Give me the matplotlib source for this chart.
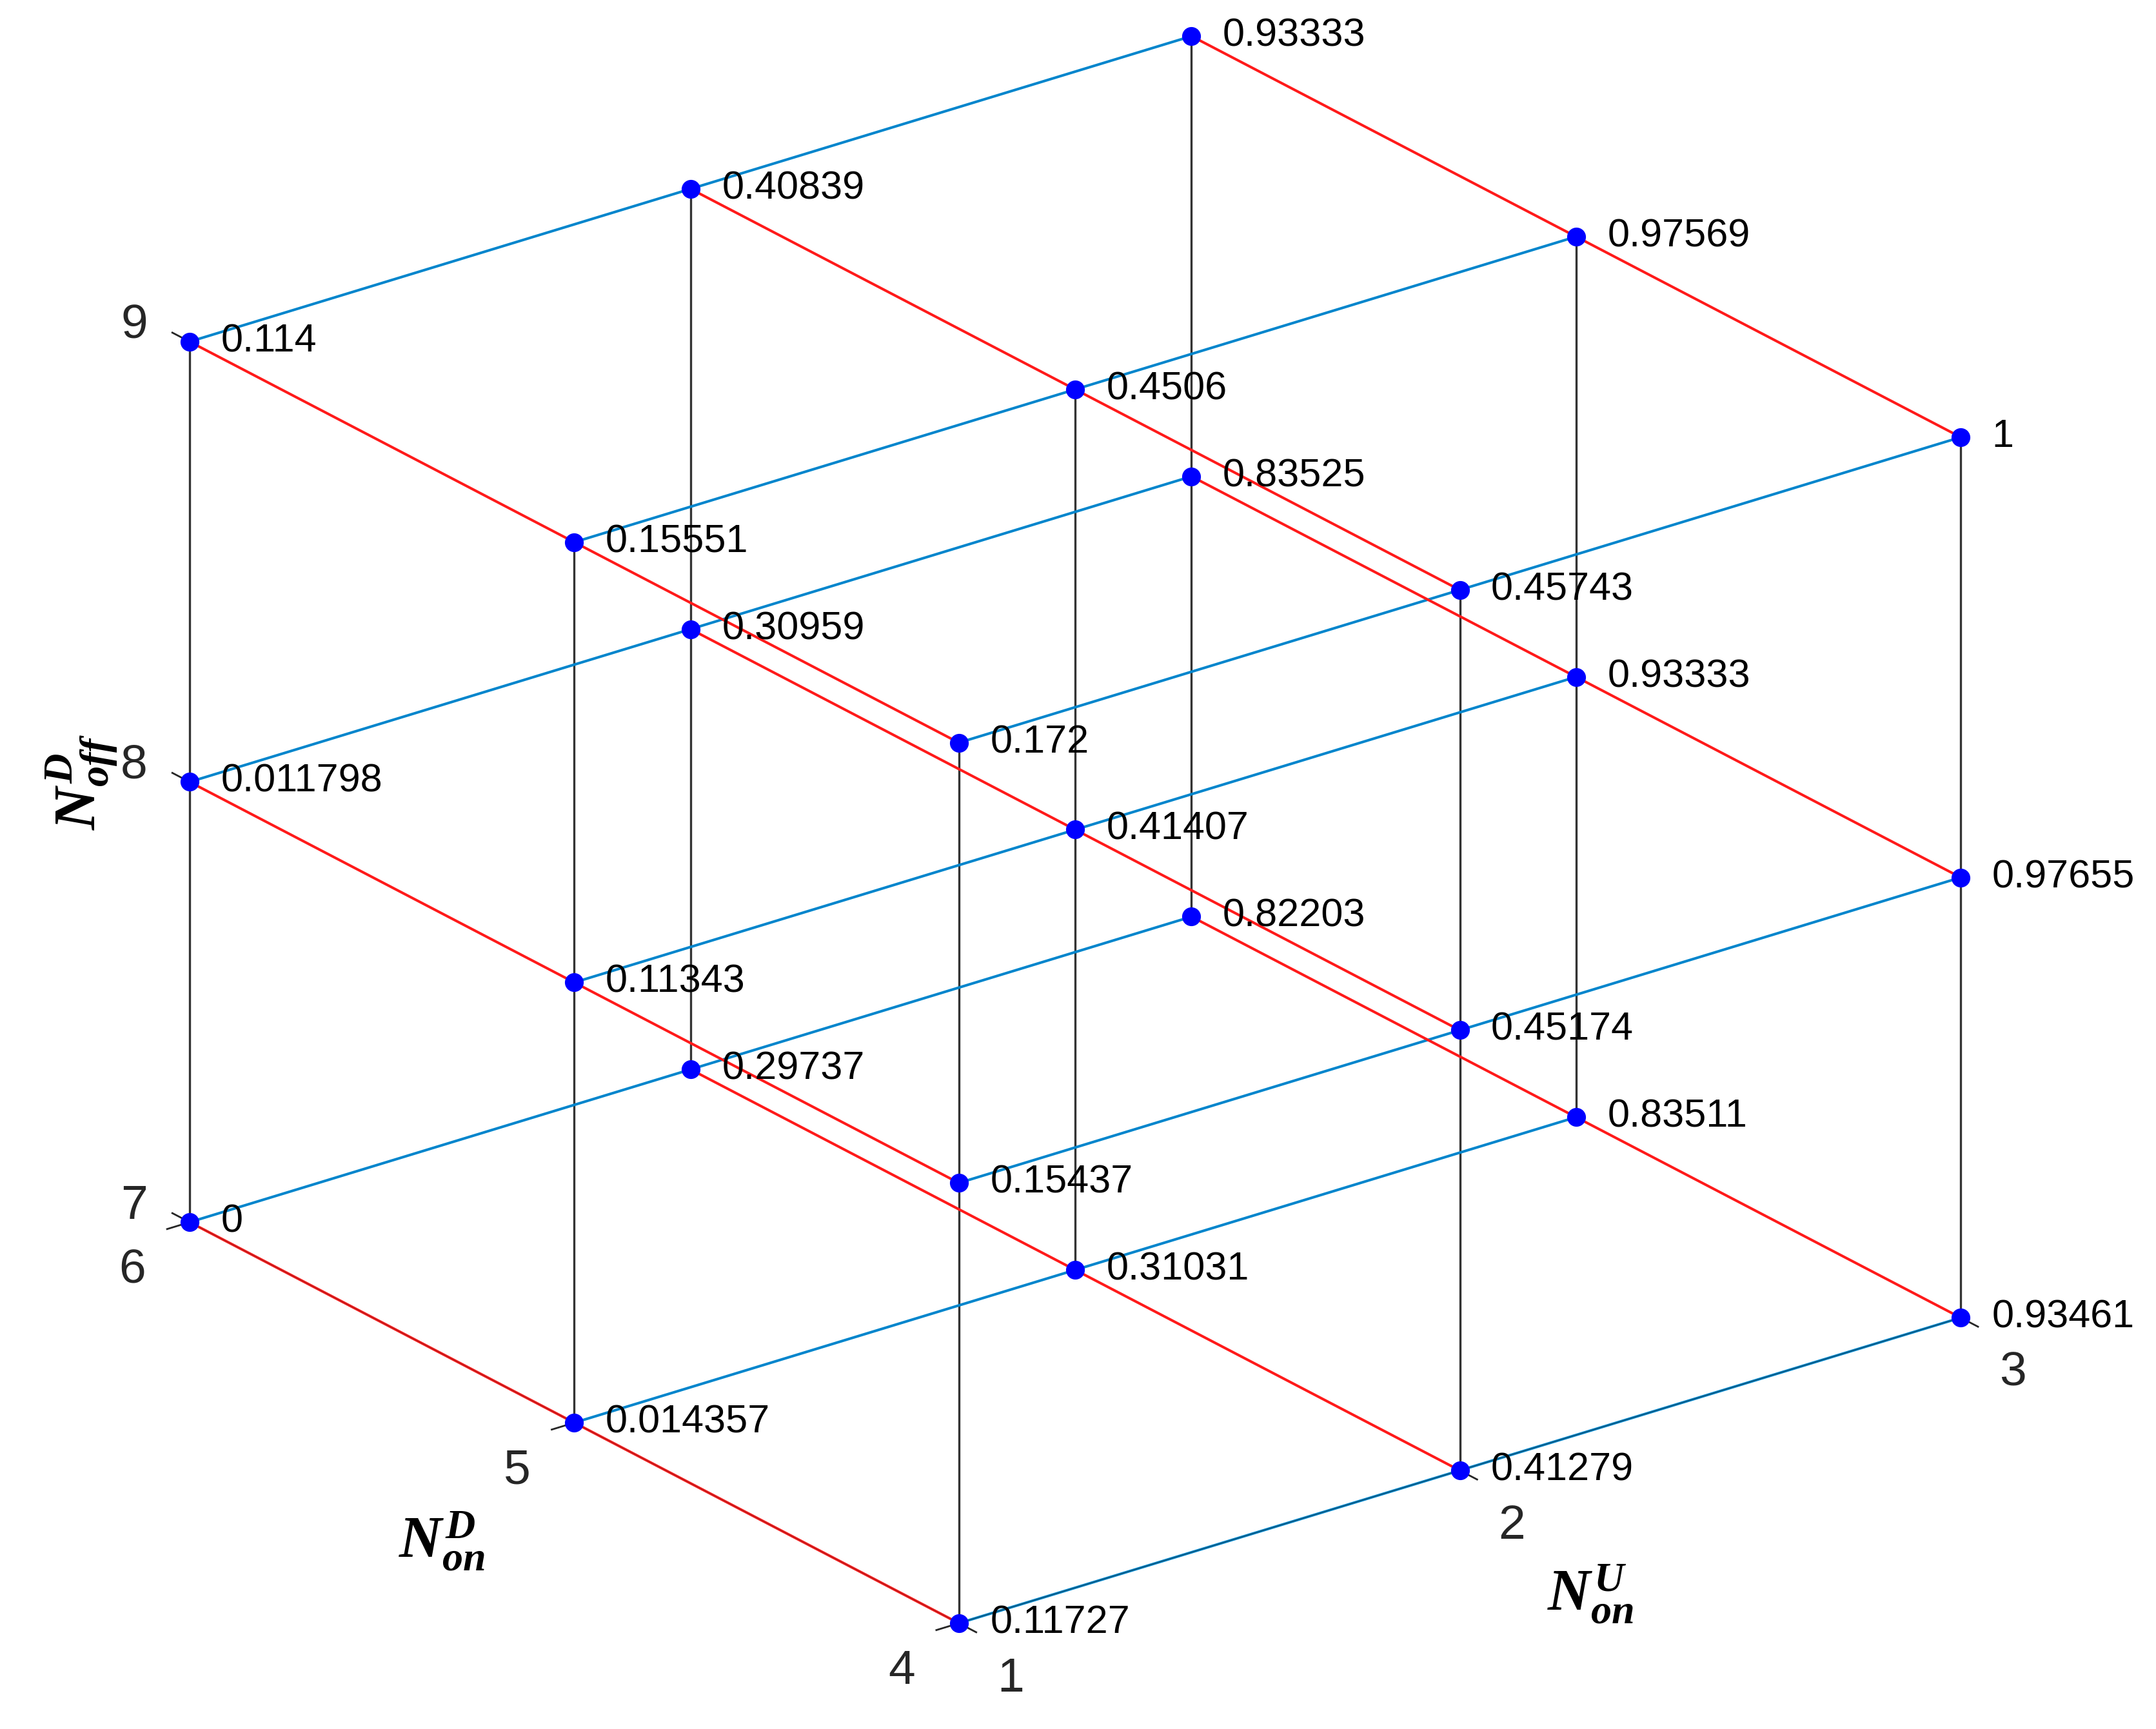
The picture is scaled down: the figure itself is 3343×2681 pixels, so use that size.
import numpy as np
import matplotlib
matplotlib.use('Agg')
import matplotlib.pyplot as plt

n_on_u = [1, 2, 3]
n_on_d = [4, 5, 6]
n_off_d = [7, 8, 9]
# rows: N_on^D = 4, 5, 6 ; columns: N_on^U = 1, 2, 3
vals_off7 = [[0.11727, 0.41279, 0.93461],
             [0.014357, 0.31031, 0.83511],
             [0, 0.29737, 0.82203]]
vals_off8 = [[0.15437, 0.45174, 0.97655],
             [0.11343, 0.41407, 0.93333],
             [0.011798, 0.30959, 0.83525]]
vals_off9 = [[0.172, 0.45743, 1],
             [0.15551, 0.4506, 0.97569],
             [0.114, 0.40839, 0.93333]]
values = [vals_off7, vals_off8, vals_off9]

plt.rcParams['mathtext.fontset'] = 'custom'
plt.rcParams['mathtext.it'] = 'Liberation Serif:italic:bold'
plt.rcParams['mathtext.rm'] = 'Liberation Serif:bold'
plt.rcParams['mathtext.bf'] = 'Liberation Serif:italic:bold'

W, H = 3343, 2681
DPI = 200
fig = plt.figure(figsize=(W / DPI, H / DPI), dpi=DPI)
ax = fig.add_axes([0.0296, -0.0648, 0.9135, 1.1391], projection='3d')
ax.set_proj_type('ortho')
ax.view_init(elev=23.5, azim=-127.41)
ax.set_box_aspect((458.3, 460.1, 348.9))
ax.set_xlim(min(n_on_u), max(n_on_u))
ax.set_ylim(min(n_on_d), max(n_on_d))
ax.set_zlim(min(n_off_d), max(n_off_d))
ax.set_axis_off()
ax.computed_zorder = False

blue = '#0085CC'
red = '#FF1A1A'
black = '#333333'
lw = 1.45

# lines along N_on^U (blue)
for d in n_on_d:
    for z in n_off_d:
        ax.plot(n_on_u, [d] * 3, [z] * 3, color=blue, lw=lw, zorder=2)
# lines along N_on^D (red)
for u in n_on_u:
    for z in n_off_d:
        ax.plot([u] * 3, n_on_d, [z] * 3, color=red, lw=lw, zorder=2)
# lines along N_off^D (black)
for u in n_on_u:
    for d in n_on_d:
        ax.plot([u] * 3, [d] * 3, n_off_d, color=black, lw=1.2, zorder=1)

# axis lines and ticks
axc = '#262626'
u0, u1 = min(n_on_u), max(n_on_u)
d0, d1 = min(n_on_d), max(n_on_d)
z0, z1 = min(n_off_d), max(n_off_d)
ax.plot([u0, u1], [d0, d0], [z0, z0], color=axc, lw=0.45, alpha=0.6, zorder=3)
ax.plot([u0, u0], [d0, d1], [z0, z0], color=axc, lw=0.45, alpha=0.4, zorder=3)
tl = 0.045
for u in n_on_u:
    ax.plot([u, u], [d0, d0 - tl], [z0, z0], color=axc, lw=1.0, zorder=3)
for d in n_on_d:
    ax.plot([u0, u0 - tl], [d, d], [z0, z0], color=axc, lw=1.0, zorder=3)
for z in n_off_d:
    ax.plot([u0, u0], [d1, d1 + tl], [z, z], color=axc, lw=1.0, zorder=3)

# points
pu, pd, pz, pv = [], [], [], []
for k, z in enumerate(n_off_d):
    for j, d in enumerate(n_on_d):
        for i, u in enumerate(n_on_u):
            pu.append(u); pd.append(d); pz.append(z); pv.append(values[k][j][i])
ax.plot(pu, pd, pz, linestyle='none', marker='o', ms=9.5, color='#0000FF', zorder=5)

fig.canvas.draw()


def project(x, y, z):
    M = ax.get_proj()
    x = np.asarray(x, float); y = np.asarray(y, float); z = np.asarray(z, float)
    v = M @ np.vstack([x, y, z, np.ones_like(x)])
    return v[0] / v[3], v[1] / v[3]


# value labels
vx, vy = project(pu, pd, pz)
for x2, y2, v in zip(vx, vy, pv):
    ax.annotate(f'{v:.5g}', xy=(x2, y2), xytext=(17.5, 0), textcoords='offset points',
                ha='left', va='center', fontsize=22, family='Liberation Sans', color='black', zorder=6)

tick_font = dict(fontsize=27, family='Liberation Sans', color='#262626', ha='center', va='center')
tx_, ty_ = project(n_on_u, [d0] * 3, [z0] * 3)
for x2, y2, u in zip(tx_, ty_, n_on_u):
    ax.annotate(str(u), xy=(x2, y2), xytext=(29, -31), textcoords='offset points', **tick_font)
tx_, ty_ = project([u0] * 3, n_on_d, [z0] * 3)
for x2, y2, d in zip(tx_, ty_, n_on_d):
    ax.annotate(str(d), xy=(x2, y2), xytext=(-32, -27), textcoords='offset points', **tick_font)
tx_, ty_ = project([u0] * 3, [d1] * 3, n_off_d)
for x2, y2, z in zip(tx_, ty_, n_off_d):
    ax.annotate(str(z), xy=(x2, y2), xytext=(-31, 9), textcoords='offset points', **tick_font)

lab_font = dict(fontsize=33, ha='center', va='center')
lx, ly = project([u0], [np.mean(n_on_d)], [z0])
ax.annotate(r'$N^{D}_{on}$', xy=(lx[0], ly[0]), xytext=(-74, -66), textcoords='offset points', **lab_font)
lx, ly = project([np.mean(n_on_u)], [d0], [z0])
ax.annotate(r'$N^{U}_{on}$', xy=(lx[0], ly[0]), xytext=(73, -69), textcoords='offset points', **lab_font)
lx, ly = project([u0], [d1], [np.mean(n_off_d)])
ax.annotate(r'$N^{D}_{off}$', xy=(lx[0], ly[0]), xytext=(-60, 0), textcoords='offset points',
            rotation=90, **lab_font)

fig.savefig('out.png', dpi=DPI)
